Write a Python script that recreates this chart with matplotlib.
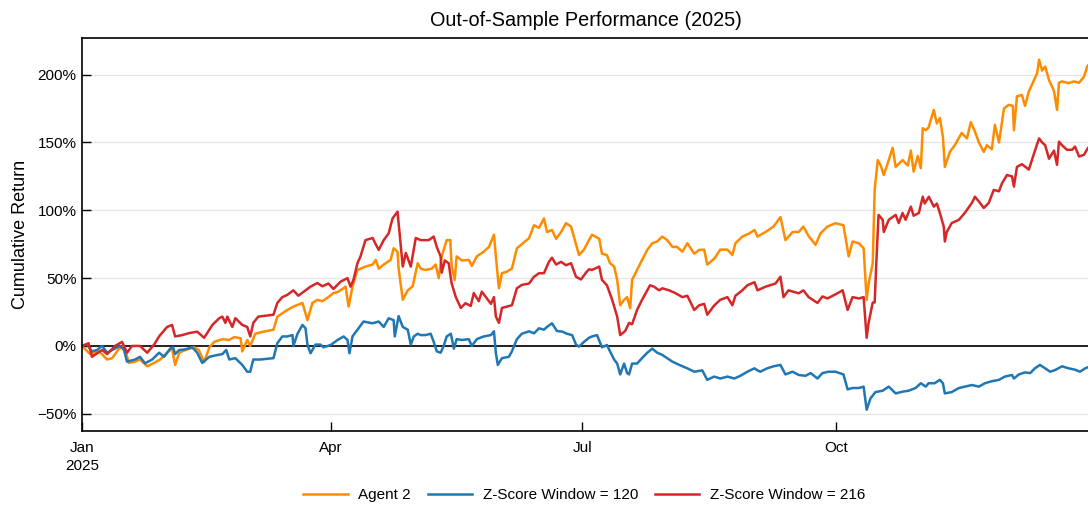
import matplotlib
matplotlib.use("Agg")
import matplotlib.pyplot as plt
from matplotlib.ticker import FuncFormatter
import pandas as pd

plt.rcParams['font.family'] = ['Liberation Sans', 'DejaVu Sans']

title = "Out-of-Sample Performance (2025)"
ylabel = "Cumulative Return"
series_names = ["Agent 2", "Z-Score Window = 120", "Z-Score Window = 216"]
colors = ["#ff8c00", "#1f77b4", "#d62728"]
start_date = "2025-01-01"

# day offsets from Jan 1 2025, values in percent
agent_days = [0, 2.9, 6.2, 9.1, 10.9, 13.4, 15.2, 17, 19.2, 21, 23.6, 26.1, 28.3, 30.8, 32.6, 33.7, 35.2, 37.4,
              40.6, 42.3, 44.2, 46.1, 47.9, 50.8, 53.2, 55.1, 57.4, 58, 59.8, 60.9, 62.7, 65.6, 69.3, 70.7, 74.3,
              76.5, 79.8, 81.6, 83.4, 85.2, 87, 89.2, 91, 92.8, 95.4, 96.5, 97.9, 99.7, 102.6, 105.2, 106.3, 107.4,
              109.2, 111.7, 112.8, 114.2, 114.6, 116.1, 117.9, 119.7, 121.5, 122.6, 124.3, 126.6, 128, 129.1, 130.2,
              132, 133.3, 133.8, 134.9, 135.6, 137.5, 140, 141.1, 142.9, 145.4, 147.3, 149.1, 149.8, 150.9, 152,
              153.8, 155.6, 157.4, 159.2, 161.8, 163.6, 165.4, 167.2, 168.3, 170.1, 171.6, 173.4, 175.2, 177, 178.1,
              179.9, 181.7, 183.5, 184.6, 187.2, 188.2, 190, 191.1, 192.6, 193.7, 194.8, 196.2, 197.3, 198.4, 199.1,
              200.9, 202.7, 204.6, 206.4, 208.2, 210, 211.8, 213.7, 215.4, 217.3, 219.1, 221.6, 223.4, 225.2, 226.3,
              228.9, 231, 233.6, 235.4, 236.5, 239, 241.6, 243.4, 244.5, 247.4, 250.3, 252.8, 254.6, 257.2, 259.4,
              261.1, 263, 265.5, 267.3, 269.8, 272.7, 275.6, 277.5, 278.9, 281.2, 282.9, 284, 284.7, 286.2, 286.9,
              288, 289.1, 290.2, 291.6, 293.4, 294.5, 297, 298.9, 300, 301, 302.5, 303.6, 304.3, 305.4, 306.4, 308.3,
              309.4, 310.5, 311.6, 312.3, 314.1, 315.9, 318.4, 320.3, 321.7, 323.2, 324.6, 326.4, 327.5, 329.3, 330.4,
              331.9, 333.7, 335.4, 336.9, 337.3, 338.4, 340.2, 341.3, 342.7, 344.6, 345.7, 346.4, 347.5, 348.6, 350,
              351.8, 352.9, 353.6, 354.7, 357.1, 359, 360.9, 362.7, 363.8, 364.9]
agent_vals = [0, -6, -4, -10, -9, -2, 0, -12.5, -11.6, -10, -15, -12.5, -10, -5, -2, -14, -5, -3,
              -1, -3, -12, -1, 3, 5, 4.4, 6.5, 5.7, -4, 4.4, 0, 9, 10.5, 12, 21.6, 26.5,
              29, 31.7, 19, 31.7, 34, 33, 36, 39, 40, 43.7, 29, 43.7, 56, 58.5, 60, 63.4, 57,
              60, 63.4, 72, 69.5, 57, 34, 41, 44, 61, 57, 56, 57, 60, 50, 66,
              78, 78, 59, 48.7, 66, 63, 63.4, 59, 66, 69.5, 73, 82, 66, 42.5, 53.6,
              54.8, 57, 72, 75, 79.4, 89, 87, 94, 84, 85.5, 79, 84, 90.5, 88, 80,
              67, 71, 78, 82, 79, 68, 67, 61, 58.5, 48.7, 30, 34, 36, 27.8, 48.7,
              56, 63.4, 70.8, 75.7, 77, 80.6, 78, 73, 73, 69.5, 75.7, 68, 70.8, 71, 60,
              64.5, 71, 71, 67, 75.7, 80.6, 83, 85.5, 80.6, 84, 88, 95, 78, 84, 84,
              88, 81, 74.5, 83, 88, 90.5, 89, 66, 77, 75.7, 72, 34, 46, 61, 115,
              137, 133, 126, 134.5, 146, 132, 137, 133, 144, 128.5, 140, 131, 160.5, 159, 161, 174,
              164, 168, 154, 132, 143, 148, 157, 153, 165, 158, 150, 143, 148, 145, 163,
              150, 175, 177.7, 177, 159, 184, 185, 177, 187.6, 196, 201, 211, 203, 206, 196,
              188, 174, 194, 195, 193.7, 195, 194, 198.6, 206, 208.5]

z120_days = [0, 1.8, 3.6, 5.4, 7.3, 9.1, 12.1, 13.8, 15.2, 16.3, 19.2, 21, 22.8, 25.4, 27.9, 29.7, 31.9, 33,
             33.7, 35.2, 37.4, 39.9, 41.7, 43.5, 46.1, 48.2, 50.8, 52.2, 53.3, 55.5, 58, 59.8, 60.9, 62, 64.6,
             69.3, 70.7, 72.5, 74.3, 76.2, 76.5, 78, 79.8, 80.9, 81.6, 82.7, 84.5, 86.3, 87.4, 90, 92.5, 94.7,
             96.1, 96.8, 97.9, 99.7, 101.9, 105.1, 107.4, 109.2, 111, 112.8, 113.2, 114.6, 116.1, 117.9, 119,
             120.1, 121.5, 122.6, 124.3, 126.2, 127.3, 128.4, 129.8, 130.9, 132, 133.5, 134.6, 135.6, 137.5, 140,
             141.1, 142.9, 145.4, 148, 149.1, 149.8, 150.5, 152, 154.5, 155.6, 157.4, 159.2, 161.8, 163.6, 165.4,
             167.2, 168.3, 170.1, 171.9, 173.8, 175.5, 177.4, 178.8, 179.9, 181.7, 183.5, 184.6, 186.4, 188.2, 190,
             191.1, 192.6, 193.7, 194.8, 196.2, 197.3, 198, 199.1, 200.9, 202.7, 204.6, 206.4, 208.2, 210, 211.8,
             213.7, 216.2, 219.1, 221.6, 224.5, 226.3, 228.8, 231, 233.6, 236.1, 238.3, 240.8, 243.4, 244.5, 245.5,
             248, 250.3, 252.8, 254.6, 257.2, 259.4, 261.9, 263.7, 266.2, 268, 270.2, 272.7, 275.6, 277.1, 278.9,
             281.2, 282.9, 284, 285.4, 287.2, 289.8, 292, 294.5, 297, 299.2, 301.7, 303.6, 305.4, 306.4, 308.6,
             310.5, 311.6, 312.3, 314.8, 317.4, 319.5, 322.1, 324.6, 326.8, 329.3, 331.9, 334, 336.6, 337.3, 339.1,
             341.3, 343.2, 344.9, 346.7, 348.6, 350.4, 352.3, 354.7, 357.1, 359.4, 361.2, 363.1, 364.9]
z120_vals = [0, 1, -4, -3, 0, -5, -1.7, 0, -3, -11.6, -10, -8, -12.8, -10, -5, -8, -2, -1,
             -6, -3, -2.5, -1, -5, -12.5, -8, -7, -6, -3, -10, -9, -14, -19, -19, -10, -10,
             -9, 2, 7, 7, 8, 0, 9, 15.5, 13, 1, -5.4, 1, 1, -1, 0.7, 4.4, 7,
             4.4, -5.4, 7, 12, 18, 16.7, 18, 14, 20.4, 19, 7, 22, 14, 12, 1,
             7, 9, 8, 8, 9, 3, -4, -5, 0, 7, 9, -2, 5, 4.4, 5,
             0, 5, 7, 8, 10.8, -5.4, -14, -9, -8, -4, 5, 9, 10.8, 9.3, 13,
             12, 14, 16.7, 11, 10.6, 9, 8, 1, -0.5, 3, 6, 7, 8, -1, 0.7,
             -4, -10, -13, -21, -13, -20, -21, -13, -13, -9, -5, -2, -5, -6.6, -9,
             -11.6, -14, -16.5, -19, -18, -25, -22.6, -24, -22.6, -24, -22, -19, -16.5, -18, -19,
             -16.5, -15, -14, -21, -19, -21.4, -22, -20, -24, -20, -19, -19, -21, -32, -31,
             -31, -30, -47, -38.6, -34, -33, -30, -35, -33.7, -33, -31, -27.5, -30, -27.5, -27.5,
             -25, -27.5, -35, -34, -31, -30, -28.8, -30, -27.5, -26, -25, -22.6, -21.4, -24, -21,
             -19.5, -20, -16.5, -14, -16.5, -19, -17.7, -15, -16.5, -17.5, -19, -16.5, -15]

z216_days = [0, 2.4, 3.6, 7.3, 9.1, 12, 14.5, 16.3, 18.1, 21, 23.6, 26.1, 27.9, 30.8, 32.6, 33.7, 36.3, 38.8,
             41.7, 44.2, 47.2, 49.7, 50.8, 51.9, 52.6, 54.4, 55.5, 58, 59.8, 60.9, 62, 63.8, 69.3, 70.7, 72.5,
             74.3, 76.5, 78.3, 80.9, 82.7, 85.2, 87, 89.2, 91, 93.6, 96.1, 97.2, 98.3, 99.7, 100.8, 102.6, 105.2,
             106.3, 107.4, 109.2, 111, 112.4, 114.2, 114.6, 116.1, 117.2, 119, 120.8, 122.6, 125.5, 127.3, 128.4,
             129.8, 130.2, 131.3, 132.7, 133.8, 135.3, 137.1, 138.8, 140.7, 141.8, 143.6, 144.7, 146.2, 148, 149.1,
             149.8, 150.9, 152, 153.8, 155.6, 157.4, 159.2, 161.8, 163.6, 165.4, 167.2, 169, 170.1, 171.6, 173.4,
             175.2, 177, 178.8, 180.6, 182.4, 183.5, 184.6, 187.2, 188.2, 190, 191.9, 193.7, 194.8, 196.6, 198,
             199.1, 200.9, 202.7, 204.6, 205.6, 207, 208.9, 210, 212.5, 214.7, 217.3, 219.1, 221.6, 223.4, 225.2,
             226.3, 228.9, 231, 233.6, 235.4, 236.5, 239, 240.8, 243.4, 244.5, 247.4, 251, 252.8, 253.9, 255.7,
             259.4, 261.1, 263, 266.2, 268, 269.8, 272.7, 275.3, 277.1, 278.9, 281.2, 282.9, 284, 284.7, 286.2,
             286.9, 287.6, 288.3, 289.8, 290.2, 292, 294.5, 295.6, 297, 298.1, 300, 301, 302.9, 304.3, 305, 306.5,
             308.3, 309.4, 310.5, 311.9, 312.3, 313, 314.8, 317.4, 319.5, 322.1, 323.2, 324.6, 326.4, 328.2, 330,
             331.9, 333, 334.8, 336.6, 337.3, 338.4, 340.2, 342.7, 344.6, 346.4, 347.5, 348.6, 350, 351.8, 352.9,
             353.6, 354.7, 356.5, 358.4, 359.4, 360.9, 362.7, 363.8, 364.9]
z216_vals = [0, 2, -8, -3, -6, 0, 3, -5, 0, 0, -5, 1, 7, 14, 15.5, 7, 8, 9.5,
             10.5, 6, 15.5, 20.5, 21.6, 17, 21.6, 14, 20.5, 15.5, 14, 7, 17, 21.6, 23, 31.7, 36,
             37.6, 41, 37, 41, 43.7, 46.4, 44, 46, 42, 47.4, 50, 43.7, 49, 61, 66, 78, 79.6,
             75, 70.8, 78, 83, 94, 99, 90.6, 58.5, 68.6, 58.5, 79.6, 78, 78, 80.6, 73,
             66, 54, 63, 61, 46, 36, 28, 31.5, 29.5, 39, 33, 40, 36, 31, 36,
             21.6, 17, 28, 29, 30, 42.5, 45, 46, 51, 53.6, 53.6, 62, 65, 60, 62,
             59.5, 61, 51, 49, 54, 56.5, 56, 58.5, 48.7, 44.7, 34, 21.6, 8, 11, 17,
             16, 26.5, 34, 41, 44.7, 43.7, 41, 42.5, 41, 39, 36, 37, 26.5, 30, 31,
             23, 30, 34, 36, 30, 37, 41, 44.7, 47, 41, 43.7, 46, 51, 36, 41,
             38.8, 41, 36, 31.7, 36.5, 35, 38, 41, 26.5, 36, 35, 36, 6, 17, 32,
             32, 66, 96.6, 93, 84, 93, 96.6, 90.6, 98, 93, 102.7, 96, 98, 110, 105, 110,
             102.7, 105, 98, 88, 77, 84, 90.6, 93, 98, 105.5, 110, 106.5, 101.7, 105.5, 115,
             114, 120, 126, 125, 117.5, 132, 134, 130, 142, 153, 150, 148, 138, 144, 133.5,
             150.6, 148, 144.6, 144.6, 147, 139.6, 141, 145, 148]

ytick_vals = [-50, 0, 50, 100, 150, 200]
xtick_dates = ["2025-01-01", "2025-04-01", "2025-07-01", "2025-10-01"]
xtick_labels = ["Jan\n2025", "Apr", "Jul", "Oct"]

def to_dates(days):
    return pd.Timestamp(start_date) + pd.to_timedelta(days, unit="D")

fig = plt.figure(figsize=(10.88, 5.07), dpi=100)
ax = fig.add_axes([82/1088, (507-431)/507, (1088-82)/1088 + 0.002, (431-38)/507])

all_days = [agent_days, z120_days, z216_days]
all_vals = [agent_vals, z120_vals, z216_vals]
for name, c, d, v in zip(series_names, colors, all_days, all_vals):
    ax.plot(to_dates(d), v, color=c, lw=1.8, label=name)

ax.axhline(0, color="black", lw=1.2, zorder=1)
ax.set_ylim(-62.7, 227)
ax.set_xlim(to_dates([0])[0], to_dates([364.9])[0])
ax.set_yticks(ytick_vals)
ax.yaxis.set_major_formatter(FuncFormatter(lambda v, p: f"{v:.0f}%".replace("-", "\u2212")))
ax.set_xticks(pd.to_datetime(xtick_dates))
ax.set_xticklabels(xtick_labels, linespacing=1.35)
ax.xaxis.set_minor_locator(matplotlib.ticker.NullLocator())
ax.grid(axis="y", color="#e6e6e6", lw=1.0)
ax.set_axisbelow(True)
ax.tick_params(direction="in", length=6.5, width=1, labelsize=11, colors="black")
ax.tick_params(axis="x", pad=7)
ax.tick_params(axis="y", pad=4)
for s in ax.spines.values():
    s.set_color("black")
    s.set_linewidth(1.2)

ax.set_title(title, fontsize=14.3, pad=9)
ax.set_ylabel(ylabel, fontsize=13, labelpad=6)
fig.legend(loc="lower center", bbox_to_anchor=(0.537, -0.018), ncol=3, frameon=False, fontsize=11,
           handlelength=2.9, handletextpad=0.7, columnspacing=1.1)

fig.savefig("out.png", dpi=100)
